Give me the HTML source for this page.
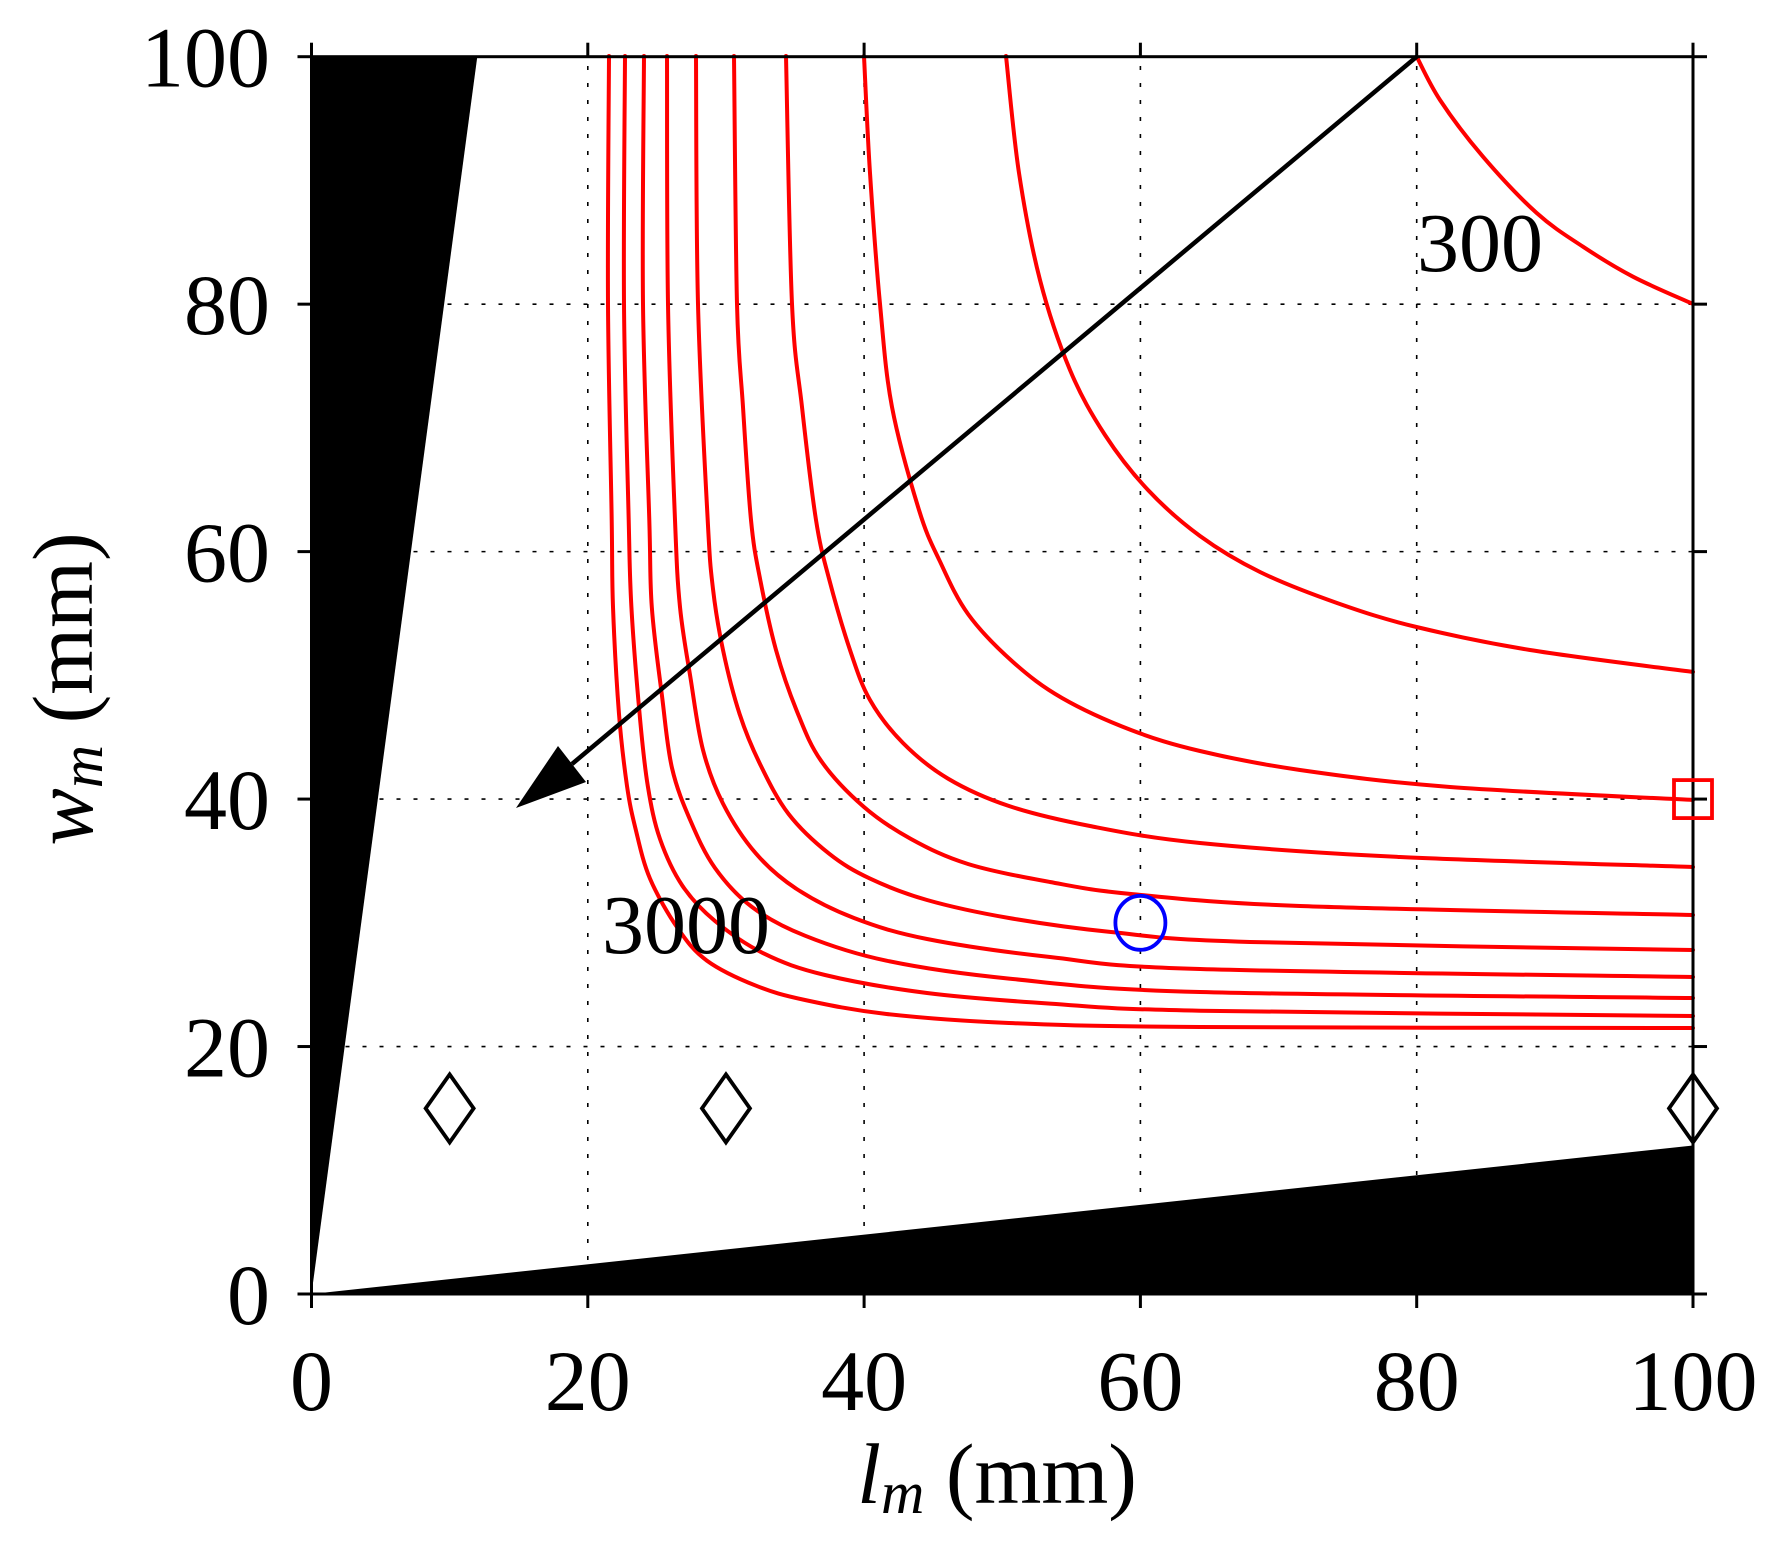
<!DOCTYPE html>
<html><head><meta charset="utf-8"><style>html,body{margin:0;padding:0;background:#fff}svg{display:block}svg text{font-family:"Liberation Serif","Times New Roman",serif}</style></head>
<body>
<svg id="s" xmlns="http://www.w3.org/2000/svg" width="1776" height="1544" viewBox="0 0 1776 1544">
<rect width="1776" height="1544" fill="#fff"/>
<g id="grid" stroke="#000" stroke-width="1.6" stroke-dasharray="4,13" fill="none"></g>
<g id="fills" fill="#000"></g>
<g id="curves" stroke="#ff0000" stroke-width="4" fill="none" stroke-linejoin="round" stroke-linecap="round"></g>
<g id="axes" stroke="#000" stroke-width="3" fill="none"></g>
<g id="marks" fill="none" stroke-width="3.8"></g>
<g id="labels" font-size="86" fill="#000"></g>
<text x="997" y="1503" font-size="86" text-anchor="middle"><tspan font-style="italic">l</tspan><tspan font-style="italic" font-size="60" dy="10">m</tspan><tspan dy="-10"> (mm)</tspan></text>
<text transform="translate(92,689) rotate(-90)" font-size="86" text-anchor="middle"><tspan font-style="italic">w</tspan><tspan font-style="italic" font-size="60" dy="10">m</tspan><tspan dy="-10"> (mm)</tspan></text>
<text x="1417" y="271" font-size="84">300</text>
<text x="602" y="953" font-size="84">3000</text>
</svg>
<script>
var NS="http://www.w3.org/2000/svg";
function X(l){return 311.5+13.815*l}
function Y(w){return 1294-12.373*w}
function el(p,t,a){var e=document.createElementNS(NS,t);for(var k in a)e.setAttribute(k,a[k]);document.getElementById(p).appendChild(e);return e}
for(var v=20;v<=80;v+=20){
 el("grid","line",{x1:X(v),y1:Y(0),x2:X(v),y2:Y(100)});
 el("grid","line",{x1:X(0),y1:Y(v),x2:X(100),y2:Y(v)});
}
el("fills","polygon",{points:[X(0),Y(0),X(0),Y(100),X(12),Y(100)].join(" ")});
el("fills","polygon",{points:[X(0),Y(0),X(100),Y(0),X(100),Y(12)].join(" ")});
var C=[
[[609,56],[608,304],[611.7,520],[613,607],[619,714],[627,786],[635.5,828.6],[650,878.6],[678,928.6],[707,960.7],[756,985.7],[805,1000],[886.5,1014],[1009,1023],[1200,1027],[1693,1028]],
[[625,56],[624,304],[628.7,520],[631.4,607],[639.6,714],[647.8,786],[660,839],[682.4,885.7],[715,921],[764,953.6],[825,975],[927,993],[1050,1003.6],[1200,1010.7],[1693,1016]],
[[644,56],[643,304],[649.3,520],[651.8,607],[662,696],[672,768],[690.6,821],[715,868],[752,907],[805,935.7],[886.5,960.7],[1009,978.6],[1200,992],[1693,998]],
[[667,56],[668,304],[675,520],[680,607],[690.6,678.6],[703,750],[723,803.6],[756,853.6],[796.7,889],[854,918],[927,939],[1050,957],[1200,969],[1693,977]],
[[696,56],[698,304],[707.7,520],[713,589],[723,650],[739.6,714],[760,764],[788.6,814],[829,853.6],[870,878.6],[927,900],[1009,918],[1111,932],[1250,942],[1693,950]],
[[734,56],[737,304],[743,407],[751,520],[760,578.6],[776,650],[796.7,710.7],[821,760.7],[864,807],[911,839],[968,864],[1050,882],[1131,894],[1300,906],[1693,915]],
[[786,56],[792,304],[802,407],[816,520],[829,578.6],[850,650],[870,700],[903,743],[948,778.6],[1009,806],[1090,826],[1200,843],[1400,857],[1693,867]],
[[864,56],[870,173],[880,304],[892,407],[919,510],[939.6,560.7],[968,614],[1013,662],[1062,698],[1131,730],[1200,751],[1300,770],[1450,787],[1693,800]],
[[1006,56],[1019,173],[1040,280],[1070,370],[1105,435],[1148,490],[1200,536],[1260,572],[1337,603],[1416.5,627],[1530,650],[1693,672]],
[[1416.7,56.7],[1440,100],[1483,156.7],[1536.7,213],[1583,246.7],[1633,276.7],[1693,304]]
];
function cr(p){
 var d="M"+p[0][0]+" "+p[0][1];
 for(var i=0;i<p.length-1;i++){
  var p0=p[i-1]||p[i],p1=p[i],p2=p[i+1],p3=p[i+2]||p2;
  var c1x=p1[0]+(p2[0]-p0[0])/6,c1y=p1[1]+(p2[1]-p0[1])/6;
  var c2x=p2[0]-(p3[0]-p1[0])/6,c2y=p2[1]-(p3[1]-p1[1])/6;
  d+="C"+c1x.toFixed(1)+" "+c1y.toFixed(1)+" "+c2x.toFixed(1)+" "+c2y.toFixed(1)+" "+p2[0]+" "+p2[1];
 }
 return d;
}
C.forEach(function(p){el("curves","path",{d:cr(p)});});
el("axes","rect",{x:X(0),y:Y(100),width:X(100)-X(0),height:Y(0)-Y(100)});
for(var v=0;v<=100;v+=20){
 el("axes","line",{x1:X(v),y1:Y(0),x2:X(v),y2:Y(0)+14});
 el("axes","line",{x1:X(v),y1:Y(100),x2:X(v),y2:Y(100)-14});
 el("axes","line",{x1:X(0),y1:Y(v),x2:X(0)-14,y2:Y(v)});
 el("axes","line",{x1:X(100),y1:Y(v),x2:X(100)+14,y2:Y(v)});
 var t=el("labels","text",{x:X(v),y:1410,"text-anchor":"middle"});t.textContent=v;
 var t2=el("labels","text",{x:270,y:Y(v)+30,"text-anchor":"end"});t2.textContent=v;
}
el("axes","line",{x1:X(80),y1:Y(100),x2:572,y2:764,"stroke-width":4.5});
el("fills","polygon",{points:"516,808 558,746 586,782"});
[10,30,100].forEach(function(l){
 var cx=X(l),cy=Y(15);
 el("marks","polygon",{points:[cx,cy-34,cx+24,cy,cx,cy+34,cx-24,cy].join(" "),stroke:"#000"});
});
el("marks","rect",{x:X(100)-19,y:Y(40)-19,width:38,height:38,stroke:"#ff0000"});
el("marks","ellipse",{cx:X(60),cy:Y(30),rx:25,ry:27,stroke:"#0000ff"});
</script>
</body></html>
